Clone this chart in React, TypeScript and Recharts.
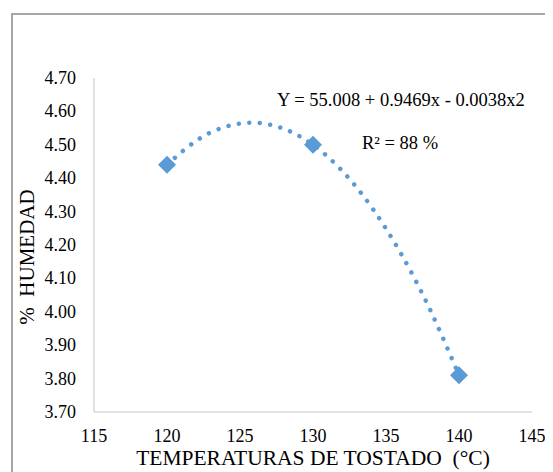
import { ComposedChart, Line, Scatter, XAxis, YAxis } from "recharts";

// measured points
const temperatures = [120, 130, 140];
const humidity = [4.44, 4.5, 3.81];

// polynomial trendline
const trendTemps = [120, 122, 124, 126, 128, 130, 132, 134, 136, 138, 140];
const trendHumidity = [4.44, 4.512, 4.554, 4.566, 4.548, 4.5, 4.422, 4.314, 4.176, 4.008, 3.81];

const xTicks = [115, 120, 125, 130, 135, 140, 145];
const yTicks = [3.7, 3.8, 3.9, 4.0, 4.1, 4.2, 4.3, 4.4, 4.5, 4.6, 4.7];

const equationText = "Y = 55.008 + 0.9469x - 0.0038x2";
const r2Text = "R² = 88 %";
const xTitle = "TEMPERATURAS DE TOSTADO  (°C)";
const yTitle = "%  HUMEDAD";

const points = temperatures.map((t, i) => ({ x: t, y: humidity[i] }));
const trend = trendTemps.map((t, i) => ({ x: t, y: trendHumidity[i] }));

const FONT = "'Liberation Serif', 'Times New Roman', serif";
const BLUE = "#5b9bd5";

const serif = { fontFamily: FONT, whiteSpace: "pre" as const };

const Diamond = (props: any) => {
  const { cx, cy } = props;
  const r = 9;
  return (
    <polygon
      points={`${cx},${cy - r} ${cx + r},${cy} ${cx},${cy + r} ${cx - r},${cy}`}
      fill={BLUE}
    />
  );
};

const XTick = (props: any) => {
  const { x, y, payload } = props;
  return (
    <text x={x} y={y + 30} fontSize={18} style={serif} fill="#000" textAnchor="middle">
      {payload.value}
    </text>
  );
};

const YTick = (props: any) => {
  const { x, y, payload } = props;
  return (
    <text x={x - 18} y={y + 6} fontSize={18} style={serif} fill="#000" textAnchor="end">
      {Number(payload.value).toFixed(2)}
    </text>
  );
};

export default function App() {
  return (
    <div style={{ position: "relative", width: 545, height: 464, background: "#fff", fontFamily: FONT }}>
      <div
        style={{
          position: "absolute",
          left: 3,
          top: 5,
          width: 542,
          height: 459,
          borderTop: "2px solid #a6a6a6",
          borderLeft: "2px solid #a6a6a6",
          boxSizing: "border-box",
        }}
      />
      <ComposedChart
        width={545}
        height={464}
        margin={{ top: 70, right: 21, left: 0, bottom: 0 }}
        style={{ position: "absolute", left: 0, top: 0, fontFamily: FONT }}
      >
        <XAxis
          type="number"
          dataKey="x"
          domain={[115, 145]}
          ticks={xTicks}
          height={60}
          axisLine={{ stroke: "#d9d9d9", strokeWidth: 1.5 }}
          tickLine={false}
          tickSize={0}
          tickMargin={0}
          tick={<XTick />}
          allowDataOverflow
        />
        <YAxis
          type="number"
          dataKey="y"
          domain={[3.7, 4.7]}
          ticks={yTicks}
          width={86}
          axisLine={{ stroke: "#d9d9d9", strokeWidth: 1.5 }}
          tickLine={false}
          tickSize={0}
          tickMargin={0}
          tick={<YTick />}
          allowDataOverflow
        />
        <Line
          data={trend}
          dataKey="y"
          type="natural"
          stroke={BLUE}
          strokeWidth={4.5}
          strokeDasharray="0.01 10.5"
          strokeLinecap="round"
          dot={false}
          activeDot={false}
          isAnimationActive={false}
        />
        <Scatter data={points} dataKey="y" shape={<Diamond />} isAnimationActive={false} />
      </ComposedChart>
      <svg
        width={545}
        height={464}
        style={{ position: "absolute", left: 0, top: 0, pointerEvents: "none" }}
      >
        <text x={269} y={98} fontSize={18.5} fill="#000" style={serif}>
          {equationText}
        </text>
        <text x={354} y={141} fontSize={18.5} fill="#000" style={serif}>
          {r2Text}
        </text>
        <text x={305} y={457} fontSize={21.5} fill="#000" textAnchor="middle" style={serif}>
          {xTitle}
        </text>
        <text
          x={0}
          y={0}
          fontSize={21}
          fill="#000"
          textAnchor="middle"
          style={serif}
          transform="translate(26 249) rotate(-90)"
        >
          {yTitle}
        </text>
      </svg>
    </div>
  );
}
